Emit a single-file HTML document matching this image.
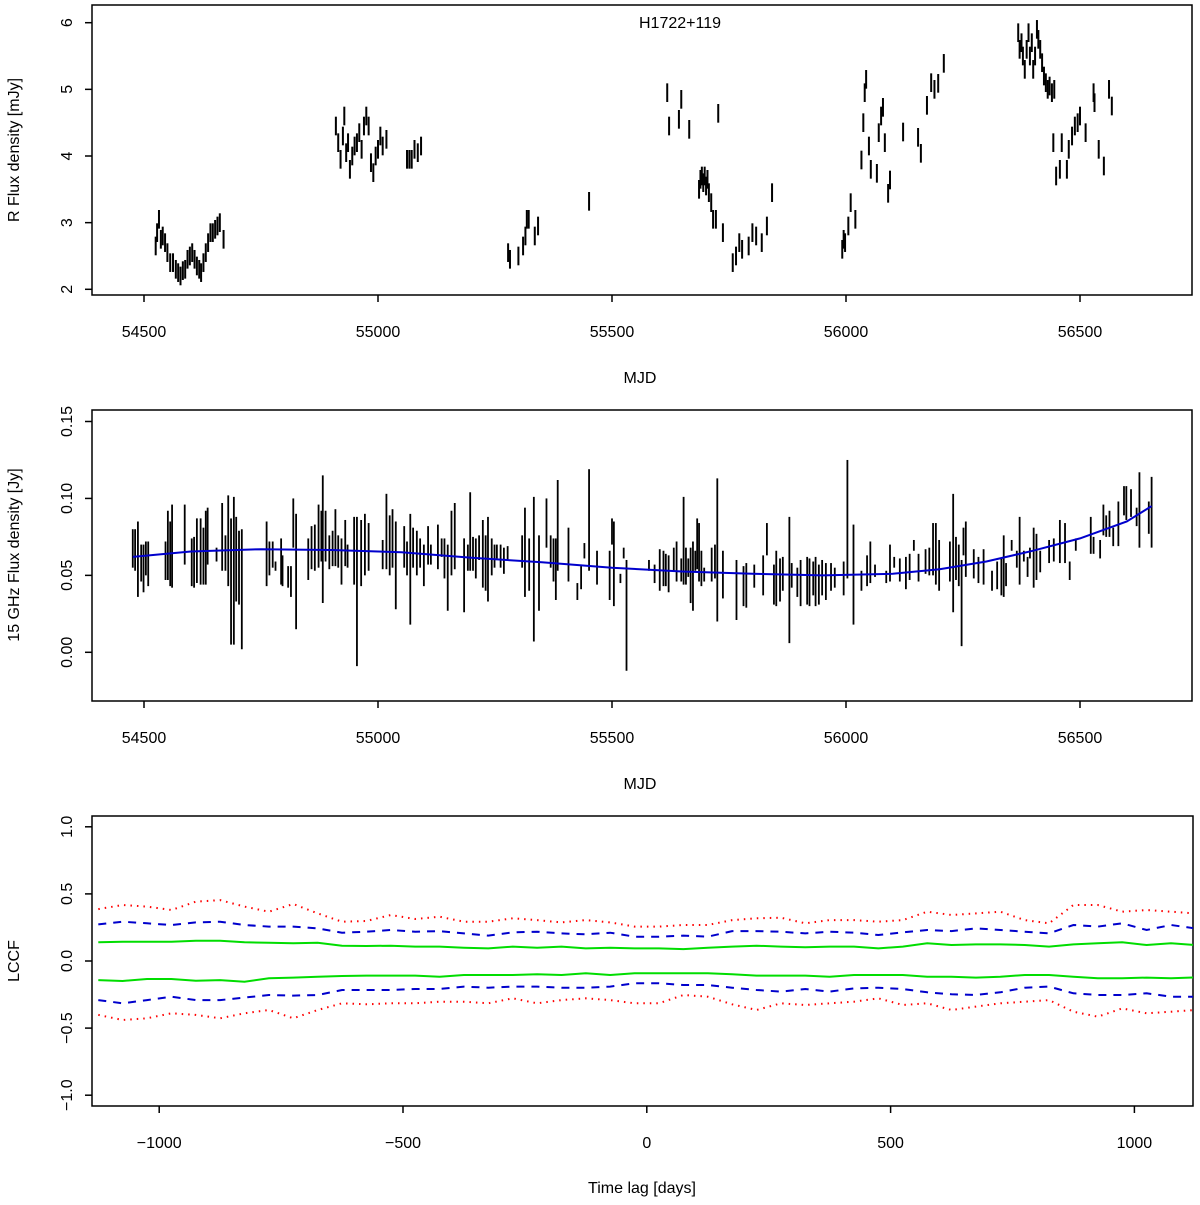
<!DOCTYPE html>
<html><head><meta charset="utf-8"><style>
html,body{margin:0;padding:0;background:#fff}
svg text{font-family:"Liberation Sans",sans-serif;font-size:16px;fill:#000}
</style></head><body>
<svg id="chart" width="1200" height="1200" viewBox="0 0 1200 1200" xmlns="http://www.w3.org/2000/svg">
<g id="p1"></g>
<g id="p2"></g>
<g id="p3"></g>
</svg>
<script>
// ---- Panel 1: R-band optical flux (mJy) ----
const optMjd = [54525,54528,54532,54536,54540,54545,54550,54556,54562,54568,54573,54578,54583,54588,54593,54598,54603,54608,54613,54618,54622,54627,54632,54637,54642,54647,54652,54657,54662,54670,
54910,54915,54920,54925,54928,54932,54936,54940,54945,54950,54955,54960,54965,54970,54975,54980,54985,54990,54995,55000,55005,55010,55018,
55062,55067,55072,55078,55085,55092,
55278,55282,55300,55310,55315,55318,55322,55335,55342,55451,
55618,55622,55643,55648,55665,55727,
55686,55689,55692,55695,55698,55701,55704,55707,55712,55716,55722,55737,55758,55765,55772,55778,55792,55800,55808,55820,55831,55842,
55992,55995,55998,56005,56010,56020,
56033,56037,56040,56043,56049,56053,56066,56070,56075,56079,56083,56090,56094,
56122,56154,56160,56173,56182,56189,56197,56209,
56368,56371,56375,56378,56382,56386,56390,56393,56397,56400,56404,56408,56411,56415,56419,56423,56427,56431,56435,56440,56445,
56443,56449,56457,56461,56472,56476,56483,56489,56495,56500,56512,56529,56531,56540,56551,56562,56568];
const optFlux = [2.65,2.85,3.05,2.75,2.8,2.7,2.55,2.4,2.4,2.3,2.25,2.2,2.28,2.3,2.45,2.5,2.55,2.45,2.35,2.3,2.25,2.4,2.55,2.7,2.85,2.85,2.9,2.95,3.0,2.75,
4.45,4.2,3.95,4.3,4.6,4.05,4.2,3.8,4.0,4.15,4.2,4.35,4.1,4.45,4.6,4.45,3.9,3.75,4.0,4.1,4.3,4.15,4.25,
3.95,3.95,3.95,4.1,4.05,4.15,
2.55,2.45,2.5,2.65,2.8,3.05,3.05,2.8,2.95,3.32,
4.95,4.45,4.55,4.85,4.4,4.64,
3.5,3.65,3.7,3.6,3.7,3.55,3.65,3.45,3.3,3.05,3.05,2.85,2.4,2.5,2.7,2.6,2.65,2.85,2.8,2.7,2.95,3.45,
2.6,2.75,2.7,2.95,3.3,3.05,
3.94,4.5,4.95,5.15,4.15,3.8,3.74,4.35,4.6,4.73,4.2,3.44,3.64,
4.36,4.28,4.04,4.76,5.1,5.0,5.09,5.39,
5.85,5.6,5.7,5.5,5.3,5.6,5.85,5.5,5.7,5.3,5.5,5.9,5.75,5.6,5.4,5.2,5.1,5.0,5.05,4.95,5.0,
4.2,3.7,3.8,4.2,3.8,4.1,4.3,4.45,4.5,4.6,4.35,4.95,4.8,4.1,3.85,5.0,4.75];
const optErr = 0.14;
const p1XTicks = [54500,55000,55500,56000,56500];
const p1YTicks = [2,3,4,5,6];

// ---- Panel 2: 15 GHz radio flux (Jy): each bar lo..hi ----
const radMjd = [54476,54481,54487,54494,54499,54504,54509,54546,54551,54556,54560,54587,54602,54607,54613,54621,54627,54632,54636,54655,54667,54674,54680,54686,54692,54697,54703,54709,54762,54768,54775,54781,54793,54796,54808,54814,54819,54825,54851,54858,54865,54873,54879,54882,54888,54896,54903,54909,54915,54922,54930,54935,54949,54955,54964,54972,54980,55010,55018,55025,55031,55038,55056,55062,55069,55075,55083,55090,55098,55107,55113,55128,55136,55142,55149,55157,55164,55184,55192,55197,55203,55209,55216,55224,55230,55235,55243,55249,55254,55262,55269,55277,55308,55314,55323,55333,55344,55360,55369,55375,55380,55384,55407,55426,55434,55441,55451,55468,55495,55500,55504,55518,55525,55531,
55579,55591,55602,55610,55615,55621,55632,55638,55648,55653,55658,55663,55668,55673,55678,55682,55686,55691,55697,55713,55720,55725,55737,55766,55781,55787,55804,55823,55831,55846,55851,55859,55865,55879,55884,55896,55903,55917,55922,55930,55935,55942,55949,55957,55968,55976,55995,56003,56016,56033,56045,56052,56062,56086,56094,56103,56115,56128,56136,56145,56155,56170,56178,56186,56192,56199,56222,56229,56235,56241,56247,56251,56256,56273,56283,56294,56312,56323,56332,56337,56342,56354,56365,56371,56380,56388,56393,56401,56407,56415,56434,56444,56457,56468,56478,56491,56523,56529,56543,56550,56556,56563,56571,56582,56594,56599,56609,56621,56627,56647,56653];
const radHi = [0.080,0.080,0.085,0.070,0.070,0.072,0.072,0.072,0.092,0.085,0.096,0.096,0.074,0.075,0.087,0.087,0.081,0.092,0.094,0.068,0.097,0.076,0.102,0.087,0.101,0.088,0.079,0.080,0.085,0.072,0.072,0.059,0.074,0.063,0.056,0.056,0.100,0.090,0.074,0.082,0.083,0.096,0.092,0.115,0.092,0.076,0.079,0.093,0.076,0.074,0.086,0.070,0.088,0.088,0.086,0.090,0.084,0.073,0.103,0.089,0.093,0.085,0.082,0.072,0.090,0.081,0.079,0.074,0.070,0.082,0.070,0.083,0.074,0.074,0.070,0.092,0.097,0.074,0.070,0.104,0.075,0.074,0.076,0.086,0.076,0.088,0.074,0.070,0.070,0.070,0.068,0.069,0.076,0.094,0.074,0.101,0.076,0.100,0.076,0.074,0.074,0.112,0.081,0.045,0.056,0.071,0.119,0.066,0.066,0.087,0.085,0.051,0.068,0.060,
0.060,0.057,0.067,0.066,0.064,0.063,0.068,0.072,0.061,0.101,0.068,0.061,0.068,0.072,0.066,0.087,0.084,0.066,0.055,0.068,0.070,0.113,0.066,0.060,0.056,0.058,0.057,0.063,0.084,0.057,0.066,0.061,0.062,0.088,0.058,0.055,0.060,0.062,0.061,0.059,0.062,0.057,0.060,0.058,0.058,0.055,0.059,0.125,0.083,0.053,0.063,0.072,0.057,0.053,0.070,0.062,0.061,0.062,0.064,0.073,0.064,0.067,0.068,0.084,0.084,0.073,0.072,0.103,0.075,0.070,0.060,0.081,0.085,0.067,0.062,0.067,0.053,0.059,0.061,0.076,0.058,0.073,0.066,0.088,0.066,0.062,0.068,0.081,0.077,0.066,0.073,0.074,0.086,0.084,0.059,0.074,0.088,0.075,0.073,0.096,0.089,0.092,0.081,0.098,0.108,0.108,0.106,0.094,0.117,0.098,0.114];
const radLo = [0.055,0.053,0.036,0.046,0.039,0.050,0.043,0.047,0.047,0.043,0.042,0.057,0.043,0.042,0.045,0.044,0.044,0.044,0.057,0.059,0.053,0.053,0.043,0.005,0.005,0.033,0.031,0.002,0.043,0.050,0.055,0.053,0.044,0.043,0.042,0.036,0.068,0.015,0.047,0.054,0.053,0.055,0.059,0.032,0.059,0.054,0.056,0.056,0.055,0.044,0.056,0.055,0.044,-0.009,0.043,0.050,0.053,0.054,0.054,0.050,0.055,0.028,0.055,0.050,0.018,0.055,0.050,0.055,0.043,0.057,0.057,0.054,0.062,0.048,0.027,0.050,0.054,0.026,0.053,0.053,0.053,0.048,0.060,0.042,0.040,0.033,0.050,0.055,0.061,0.055,0.051,0.060,0.055,0.036,0.040,0.007,0.027,0.068,0.055,0.046,0.034,0.053,0.046,0.034,0.041,0.061,0.053,0.044,0.034,0.070,0.030,0.045,0.061,-0.012,
0.053,0.045,0.040,0.043,0.043,0.039,0.053,0.046,0.046,0.044,0.044,0.049,0.032,0.027,0.053,0.054,0.046,0.043,0.046,0.046,0.048,0.020,0.035,0.021,0.030,0.029,0.042,0.037,0.063,0.031,0.030,0.033,0.040,0.006,0.042,0.036,0.030,0.031,0.030,0.037,0.030,0.031,0.037,0.034,0.040,0.042,0.037,0.048,0.018,0.040,0.043,0.045,0.049,0.045,0.046,0.055,0.046,0.041,0.047,0.066,0.046,0.051,0.050,0.050,0.044,0.040,0.046,0.026,0.047,0.043,0.004,0.063,0.049,0.048,0.045,0.044,0.040,0.041,0.037,0.036,0.043,0.066,0.055,0.044,0.059,0.049,0.061,0.042,0.047,0.052,0.058,0.059,0.058,0.058,0.047,0.066,0.064,0.064,0.061,0.076,0.075,0.075,0.069,0.069,0.089,0.086,0.088,0.082,0.068,0.077,0.068];
const fitMjd = [54476,54600,54750,54900,55050,55200,55350,55500,55650,55800,55950,56100,56200,56300,56400,56500,56600,56653];
const fitFlux = [0.062,0.0655,0.067,0.0665,0.065,0.0615,0.0585,0.055,0.0525,0.051,0.050,0.051,0.054,0.059,0.066,0.074,0.085,0.095];
const p2XTicks = [54500,55000,55500,56000,56500];
const p2YTicks = [0.00,0.05,0.10,0.15];
const p2YLabels = ["0.00","0.05","0.10","0.15"];

// ---- Panel 3: LCCF significance bands ----
const lags = [];
for (let v = -1125; v <= 1125; v += 50) lags.push(v);
const red99Up = [0.387,0.417,0.405,0.380,0.442,0.454,0.405,0.367,0.425,0.355,0.293,0.298,0.343,0.313,0.330,0.293,0.293,0.318,0.305,0.288,0.305,0.288,0.256,0.256,0.268,0.268,0.305,0.318,0.323,0.281,0.305,0.305,0.293,0.305,0.367,0.343,0.355,0.367,0.305,0.281,0.417,0.417,0.367,0.380,0.367,0.355];
const blue95Up = [0.273,0.293,0.281,0.268,0.288,0.293,0.268,0.256,0.256,0.243,0.211,0.218,0.231,0.218,0.223,0.206,0.189,0.213,0.218,0.206,0.199,0.211,0.181,0.181,0.189,0.181,0.223,0.223,0.218,0.206,0.218,0.211,0.194,0.213,0.231,0.223,0.243,0.231,0.218,0.206,0.268,0.256,0.281,0.231,0.268,0.243];
const green68Up = [0.139,0.144,0.144,0.144,0.151,0.151,0.139,0.136,0.132,0.136,0.114,0.112,0.114,0.107,0.107,0.099,0.094,0.107,0.099,0.107,0.094,0.099,0.094,0.094,0.089,0.099,0.107,0.114,0.107,0.102,0.107,0.107,0.094,0.107,0.132,0.119,0.124,0.124,0.119,0.107,0.124,0.132,0.139,0.119,0.132,0.119];
const green68Lo = [-0.142,-0.149,-0.134,-0.134,-0.147,-0.142,-0.154,-0.129,-0.124,-0.117,-0.112,-0.109,-0.109,-0.109,-0.117,-0.104,-0.104,-0.104,-0.099,-0.104,-0.092,-0.104,-0.092,-0.092,-0.092,-0.092,-0.099,-0.109,-0.109,-0.109,-0.117,-0.104,-0.104,-0.104,-0.117,-0.117,-0.124,-0.117,-0.104,-0.104,-0.117,-0.129,-0.129,-0.124,-0.129,-0.122];
const blue95Lo = [-0.291,-0.315,-0.291,-0.266,-0.291,-0.291,-0.273,-0.253,-0.258,-0.253,-0.216,-0.216,-0.216,-0.209,-0.209,-0.191,-0.199,-0.191,-0.191,-0.199,-0.199,-0.191,-0.166,-0.166,-0.179,-0.179,-0.199,-0.216,-0.228,-0.209,-0.228,-0.204,-0.199,-0.209,-0.233,-0.248,-0.253,-0.233,-0.199,-0.191,-0.241,-0.253,-0.253,-0.241,-0.266,-0.266];
const red99Lo = [-0.402,-0.440,-0.427,-0.390,-0.402,-0.427,-0.390,-0.365,-0.427,-0.365,-0.315,-0.323,-0.315,-0.315,-0.303,-0.303,-0.315,-0.278,-0.315,-0.291,-0.278,-0.291,-0.315,-0.315,-0.253,-0.266,-0.323,-0.365,-0.315,-0.328,-0.315,-0.303,-0.278,-0.328,-0.315,-0.365,-0.340,-0.315,-0.303,-0.291,-0.378,-0.415,-0.353,-0.390,-0.378,-0.365];
const p3XTicks = [-1000,-500,0,500,1000];
const p3XLabels = ["\u22121000","\u2212500","0","500","1000"];
const p3YTicks = [-1.0,-0.5,0.0,0.5,1.0];
const p3YLabels = ["\u22121.0","\u22120.5","0.0","0.5","1.0"];

const NS = "http://www.w3.org/2000/svg";
function mk(parent, tag, attrs, text) {
  const e = document.createElementNS(NS, tag);
  for (const k in attrs) e.setAttribute(k, attrs[k]);
  if (text !== undefined) e.textContent = text;
  parent.appendChild(e);
  return e;
}
// axis functions
const x1 = m => 144 + (m - 54500) * 0.468;
const y1 = f => 289.3 - (f - 2) * 66.65;
const y2 = f => 652.3 - f * 1538.7;
const x3 = l => 646.8 + l * 0.4876;
const y3 = v => 961 - v * 134.2;

function frame(g, L, T, R, B, clipId) {
  const box = mk(g, "rect", {x:L, y:T, width:R-L, height:B-T, fill:"none", stroke:"#000", "stroke-width":1.5});
  
  
  const cp = mk(g, "clipPath", {id: clipId});
  mk(cp, "rect", {x:L, y:T, width:R-L, height:B-T});
}
function xAxis(g, ticks, labels, fx, B, labelY) {
  ticks.forEach((t, i) => {
    const x = fx(t);
    const tk = mk(g, "line", {x1:x, y1:B, x2:x, y2:B+7, stroke:"#000", "stroke-width":1.5});
    
    
    const tx = mk(g, "text", {x:x, y:labelY, "text-anchor":"middle"}, labels[i]);
    
    
  });
}
function yAxis(g, ticks, labels, fy, L) {
  ticks.forEach((t, i) => {
    const y = fy(t);
    const tk = mk(g, "line", {x1:L-7, y1:y, x2:L, y2:y, stroke:"#000", "stroke-width":1.5});
    
    
    const tx = mk(g, "text", {x:0, y:0, "text-anchor":"middle", transform:`translate(${L-20},${y}) rotate(-90)`}, labels[i]);
    
    
  });
}
function title(g, x, y, txt, rot, name) {
  const t = mk(g, "text", rot ? {x:0, y:0, "text-anchor":"middle", transform:`translate(${x},${y}) rotate(-90)`} : {x:x, y:y, "text-anchor":"middle"}, txt);
  
  
}

// ---- Panel 1 ----
const g1 = document.getElementById("p1");
frame(g1, 92, 5, 1192, 295, "c1");
xAxis(g1, p1XTicks, p1XTicks.map(String), x1, 295, 337);
yAxis(g1, p1YTicks, p1YTicks.map(String), y1, 92);
title(g1, 640, 383, "MJD", false, "x-axis-title");
title(g1, 19, 150, "R Flux density [mJy]", true, "y-axis-title");
title(g1, 680, 28, "H1722+119", false, "chart-title");
const d1 = mk(g1, "g", {"clip-path":"url(#c1)"});


optMjd.forEach((m, i) => {
  const b = mk(d1, "line", {x1:x1(m), x2:x1(m), y1:y1(optFlux[i]+optErr), y2:y1(optFlux[i]-optErr), stroke:"#000", "stroke-width":2});
  
  
});

// ---- Panel 2 ----
const g2 = document.getElementById("p2");
frame(g2, 92, 410, 1192, 701, "c2");
xAxis(g2, p2XTicks, p2XTicks.map(String), x1, 701, 743);
yAxis(g2, p2YTicks, p2YLabels, y2, 92);
title(g2, 640, 789, "MJD", false, "x-axis-title");
title(g2, 19, 555, "15 GHz Flux density [Jy]", true, "y-axis-title");
const d2 = mk(g2, "g", {"clip-path":"url(#c2)"});


radMjd.forEach((m, i) => {
  const b = mk(d2, "line", {x1:x1(m), x2:x1(m), y1:y2(radHi[i]), y2:y2(radLo[i]), stroke:"#000", "stroke-width":1.8});
  
  
});
const fitPts = fitMjd.map((m, i) => `${x1(m).toFixed(1)},${y2(fitFlux[i]).toFixed(1)}`).join(" ");
const fit = mk(d2, "polyline", {points:fitPts, fill:"none", stroke:"#0000cc", "stroke-width":2});



// ---- Panel 3 ----
const g3 = document.getElementById("p3");
frame(g3, 92, 816, 1193, 1106, "c3");
xAxis(g3, p3XTicks, p3XLabels, x3, 1106, 1148);
yAxis(g3, p3YTicks, p3YLabels, y3, 92);
title(g3, 642, 1193, "Time lag [days]", false, "x-axis-title");
title(g3, 19, 961, "LCCF", true, "y-axis-title");
const d3 = mk(g3, "g", {"clip-path":"url(#c3)"});
function band(arr, color, dash, name) {
  const pts = lags.map((l, i) => `${x3(l).toFixed(1)},${y3(arr[i]).toFixed(1)}`).join(" ");
  const attrs = {points:pts, fill:"none", stroke:color, "stroke-width":2};
  if (dash) attrs["stroke-dasharray"] = dash;
  const p = mk(d3, "polyline", attrs);
  
  
}
band(red99Up, "#ff0000", "1.5,5", "red-99-upper");
band(red99Lo, "#ff0000", "1.5,5", "red-99-lower");
band(blue95Up, "#0000cc", "8,7", "blue-95-upper");
band(blue95Lo, "#0000cc", "8,7", "blue-95-lower");
band(green68Up, "#00dd00", null, "green-68-upper");
band(green68Lo, "#00dd00", null, "green-68-lower");
</script>
</body></html>
